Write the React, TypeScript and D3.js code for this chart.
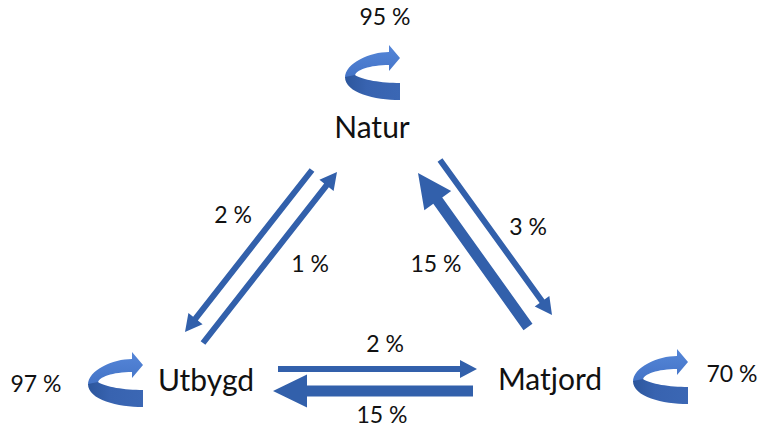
import React from "react";
import * as d3 from "d3";

// ---- data ----
const nodes = ["Natur", "Utbygd", "Matjord"];
const stayRates = [95, 97, 70];
const flowFrom = ["Natur", "Utbygd", "Matjord", "Natur", "Utbygd", "Matjord"];
const flowTo = ["Utbygd", "Natur", "Natur", "Matjord", "Matjord", "Utbygd"];
const flowValues = [2, 1, 15, 3, 2, 15];

// ---- layout (diagram geometry) ----
const W = 760;
const H = 427;
const nodeLabelPos: Record<string, [number, number]> = {
  Natur: [372, 138],
  Utbygd: [206, 391],
  Matjord: [550, 390],
};
const loopTipPos: Record<string, [number, number]> = {
  Natur: [400, 58],
  Utbygd: [143, 365],
  Matjord: [688, 362],
};
const loopLabelPos: Record<string, [number, number]> = {
  Natur: [385, 25],
  Utbygd: [36, 392],
  Matjord: [732, 382],
};
// arrow start / tip and label positions, in flow order
const arrowStart: [number, number][] = [
  [312, 170], [203, 343], [528, 327], [440, 160], [278, 369], [473, 391],
];
const arrowTip: [number, number][] = [
  [185, 332], [337, 172], [418, 173], [552, 315], [477, 369], [273, 391],
];
const flowLabelPos: [number, number][] = [
  [233, 223], [310, 272], [436, 272], [528, 235], [385, 352], [382, 423],
];

const shaftScale = d3.scaleThreshold<number, number>().domain([10]).range([6, 11]);
const headLenScale = d3.scaleThreshold<number, number>().domain([10]).range([17, 34]);
const headWidScale = d3.scaleThreshold<number, number>().domain([10]).range([18, 33]);

const ARROW = "#3260ab";
const TEXT = "#111";
const FONT = "Lato, 'Open Sans', sans-serif";

function arrowPath(s: [number, number], t: [number, number], v: number) {
  const dx = t[0] - s[0];
  const dy = t[1] - s[1];
  const len = Math.hypot(dx, dy);
  const ux = dx / len, uy = dy / len;
  const nx = -uy, ny = ux;
  const w = shaftScale(v) / 2;
  const hl = headLenScale(v);
  const hw = headWidScale(v) / 2;
  const bx = t[0] - ux * hl, by = t[1] - uy * hl;
  const p = d3.path();
  p.moveTo(s[0] + nx * w, s[1] + ny * w);
  p.lineTo(bx + nx * w, by + ny * w);
  p.lineTo(bx + nx * hw, by + ny * hw);
  p.lineTo(t[0], t[1]);
  p.lineTo(bx - nx * hw, by - ny * hw);
  p.lineTo(bx - nx * w, by - ny * w);
  p.lineTo(s[0] - nx * w, s[1] - ny * w);
  p.closePath();
  return p.toString();
}

// back (upper) part of the curved self-arrow, with head
function loopBackPath() {
  const p = d3.path();
  p.moveTo(-55, 20);
  p.bezierCurveTo(-55, 5, -30, -6, -11, -6);
  p.lineTo(-11, -13);
  p.lineTo(0, 0);
  p.lineTo(-11, 13);
  p.lineTo(-11, 7);
  p.bezierCurveTo(-30, 7, -45, 12, -45, 18);
  p.closePath();
  return p.toString();
}
// front (lower) band of the curved self-arrow
function loopFrontPath() {
  const p = d3.path();
  p.moveTo(0, 42);
  p.bezierCurveTo(-25, 42, -55, 35, -55, 19);
  p.lineTo(-45, 17);
  p.bezierCurveTo(-38, 22, -18, 25, 0, 25);
  p.closePath();
  return p.toString();
}

export default function App() {
  const back = loopBackPath();
  const front = loopFrontPath();
  return (
    <svg width={W} height={H} style={{ display: "block", position: "absolute", left: 0, top: 0, background: "#fff" }}>
      <defs>
        <linearGradient id="backGrad" x1="0" y1="0" x2="0" y2="1">
          <stop offset="0" stopColor="#5586d8" />
          <stop offset="1" stopColor="#4373c6" />
        </linearGradient>
        <linearGradient id="frontGrad" x1="0" y1="0" x2="1" y2="0">
          <stop offset="0" stopColor="#2c569c" />
          <stop offset="0.4" stopColor="#3863b0" />
          <stop offset="1" stopColor="#3b67b4" />
        </linearGradient>
      </defs>
      {flowValues.map((v, i) => (
        <path key={"a" + i} d={arrowPath(arrowStart[i], arrowTip[i], v)} fill={ARROW} />
      ))}
      {flowValues.map((v, i) => (
        <text key={"fl" + i} x={flowLabelPos[i][0]} y={flowLabelPos[i][1]} textAnchor="middle"
          fontFamily={FONT} fontSize={23} fill={TEXT}>{`${v} %`}</text>
      ))}
      {nodes.map((n, i) => (
        <g key={n}>
          <g transform={`translate(${loopTipPos[n][0]},${loopTipPos[n][1]})`}>
            <path d={back} fill="url(#backGrad)" />
            <path d={front} fill="url(#frontGrad)" />
          </g>
          <text x={loopLabelPos[n][0]} y={loopLabelPos[n][1]} textAnchor="middle"
            fontFamily={FONT} fontSize={23} fill={TEXT}>{`${stayRates[i]} %`}</text>
          <text x={nodeLabelPos[n][0]} y={nodeLabelPos[n][1]} textAnchor="middle"
            fontFamily={FONT} fontSize={30} fill={TEXT}>{n}</text>
        </g>
      ))}
    </svg>
  );
}
